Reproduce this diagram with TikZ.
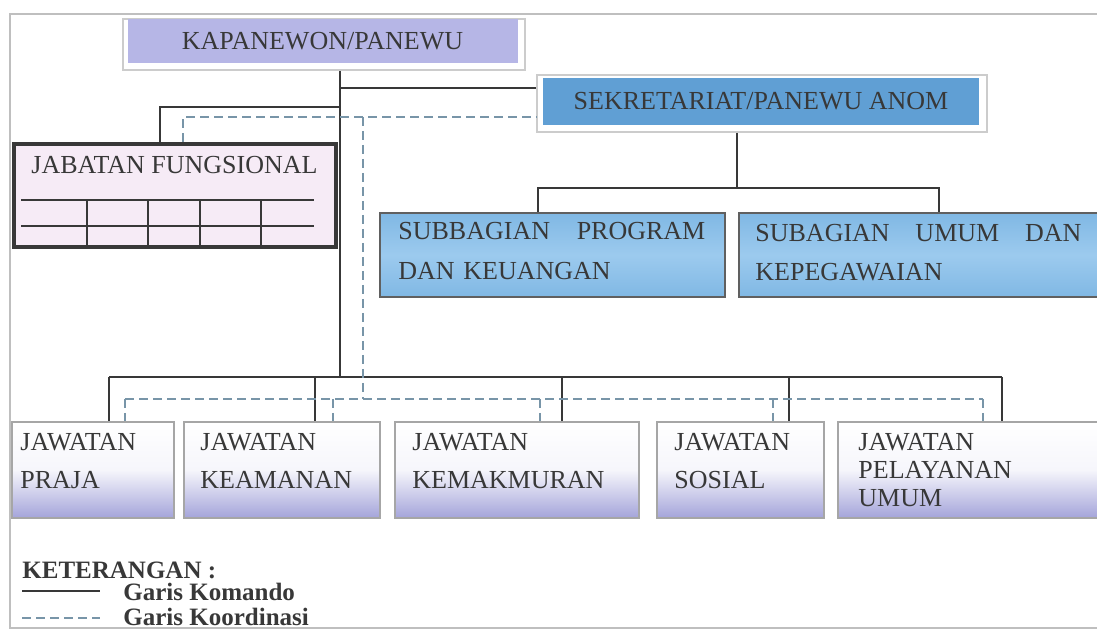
\documentclass[tikz,border=0pt]{standalone}
\usepackage{fontspec}
\setmainfont{Liberation Serif}
\usetikzlibrary{positioning}

\definecolor{kapanfill}{HTML}{B6B6E6}
\definecolor{sekfill}{HTML}{609FD4}
\definecolor{subtop}{HTML}{80B8E4}
\definecolor{submid}{HTML}{9CCAEE}
\definecolor{jabfill}{HTML}{F6EBF6}
\definecolor{jawbot}{HTML}{A4A4DA}
\definecolor{ink}{HTML}{383838}
\definecolor{koord}{HTML}{7895A8}

\tikzset{
  boxtext/.style={font=\fontsize{13}{15}\selectfont, text=ink},
  kapanbox/.style={boxtext, fill=kapanfill, inner sep=0pt},
  sekbox/.style={boxtext, fill=sekfill, inner sep=0pt},
  framebox/.style={fill=white, draw=gray!40, line width=0.8pt, inner sep=0pt},
  subbox/.style={draw=gray!75!black, line width=0.8pt, top color=subtop, bottom color=subtop, middle color=submid, inner sep=0pt},
  jabbox/.style={draw=ink, line width=2pt, fill=jabfill, inner sep=0pt},
  jawbox/.style={draw=gray!70, line width=0.8pt, top color=white, bottom color=jawbot, middle color=white!90!jawbot, inner sep=0pt},
  label/.style={boxtext, inner sep=0pt, anchor=west, align=left},
  komando/.style={draw=ink, line width=0.9pt},
  koordinasi/.style={draw=koord, line width=0.9pt, dash pattern=on 4.5pt off 2.5pt},
  tabline/.style={draw=ink, line width=0.8pt},
  legend/.style={font=\fontsize{12.5}{14}\selectfont\bfseries, text=ink, inner sep=0pt, anchor=west}
}

\begin{document}
\begin{tikzpicture}[x=0.5pt,y=-0.5pt]
	\useasboundingbox (0,0) rectangle (1097,630);
	\clip (0,0) rectangle (1097,630);
	
	% page frame
	\draw[gray!50, line width=1pt] (1100,628) -- (10,628) -- (10,14) -- (1100,14);
	
	% top boxes
	\node[framebox, minimum width=201pt, minimum height=25.5pt] (kapanframe) at (324,44.5) {};
	\node[kapanbox, minimum width=195pt, minimum height=22pt] (kapan) at (322.5,41) {KAPANEWON/PANEWU};
	
	\node[framebox, minimum width=225pt, minimum height=28.5pt] (sekframe) at (762,103.5) {};
	\node[sekbox, minimum width=218pt, minimum height=23.5pt] (sek) at (761,101.5) {SEKRETARIAT/PANEWU ANOM};
	
	\node[subbox, minimum width=172.5pt, minimum height=42pt] (prog) at (552.5,255) {};
	\node[subbox, minimum width=181pt, minimum height=42pt] (umum) at (920,255) {};
	\node[label, text width=153.5pt, font=\fontsize{13}{20}\selectfont] (progt) at (398,251) {SUBBAGIAN\hfill PROGRAM\\DAN KEUANGAN};
	\node[label, text width=163pt, font=\fontsize{13}{19.5}\selectfont] (umumt) at (755,252.5) {SUBAGIAN\hfill UMUM\hfill DAN\\KEPEGAWAIAN};
	
	% jabatan fungsional
	\node[jabbox, minimum width=161pt, minimum height=51.5pt] (jab) at (174.5,195.5) {};
	\node[label] (jabt) at (31,165) {JABATAN FUNGSIONAL};
	\foreach \y in {200,226}
		\draw[tabline] (21,\y) -- (314,\y);
	\foreach \x in {87,148,200,261}
		\draw[tabline] (\x,200) -- (jab.south -| \x,0);
	
	% jawatan
	\node[jawbox, minimum width=81pt, minimum height=48pt] (praja) at (93,470) {};
	\node[jawbox, minimum width=98pt, minimum height=48pt] (keam) at (282,470) {};
	\node[jawbox, minimum width=122pt, minimum height=48pt] (kemak) at (517,470) {};
	\node[jawbox, minimum width=83.5pt, minimum height=48pt] (sos) at (740.5,470) {};
	\node[jawbox, minimum width=135pt, minimum height=48pt] (pel) at (973,470) {};
	
	\node[label, font=\fontsize{13}{19}\selectfont] (prajat) at (20,461) {JAWATAN\\PRAJA};
	\node[label, font=\fontsize{13}{19}\selectfont] (keamt) at (200,461) {JAWATAN\\KEAMANAN};
	\node[label, font=\fontsize{13}{19}\selectfont] (kemakt) at (412,461) {JAWATAN\\KEMAKMURAN};
	\node[label, font=\fontsize{13}{19}\selectfont] (sost) at (674,461) {JAWATAN\\SOSIAL};
	\node[label, font=\fontsize{13}{14}\selectfont] (pelt) at (858,470) {JAWATAN\\PELAYANAN\\UMUM};
	
	% garis komando
	\coordinate (trunk) at (340,70);
	\coordinate (bus) at (340,377);
	\draw[komando] (kapanframe.south -| trunk) -- (bus);
	\draw[komando] (trunk |- 0,88) -- (sekframe.west |- 0,88);
	\draw[komando] (trunk |- 0,107) -| (jab.north -| 160,0);
	\draw[komando] (sekframe.south -| 737,0) -- (737,188);
	\draw[komando] (prog.north -| 538,0) -- (538,188) -- (939,188) -- (umum.north -| 939,0);
	\draw[komando] (109,377) -- (1002,377);
	\foreach \b/\x in {praja/109,keam/315,kemak/562,sos/789,pel/1002}
		\draw[komando] (\x,377) -- (\b.north -| \x,0);
	
	% garis koordinasi
	\draw[koordinasi] (jab.north -| 183,0) |- (sekframe.west |- 0,117);
	\draw[koordinasi] (363,117) -- (363,399);
	\draw[koordinasi] (125,399) -- (983,399);
	\foreach \b/\x in {praja/125,keam/333,kemak/540,sos/773,pel/983}
		\draw[koordinasi] (\x,399) -- (\b.north -| \x,0);
	
	% keterangan
	\node[legend] (ket) at (22,570) {KETERANGAN :};
	\coordinate (kom1) at (22,591);
	\coordinate (kom2) at (100,591);
	\coordinate (koo1) at (22,618);
	\coordinate (koo2) at (100,618);
	\draw[komando] (kom1) -- (kom2);
	\draw[koordinasi] (koo1) -- (koo2);
	\node[legend] (komt) at (123,592) {Garis Komando};
	\node[legend] (koot) at (123,617) {Garis Koordinasi};
\end{tikzpicture}
\end{document}
